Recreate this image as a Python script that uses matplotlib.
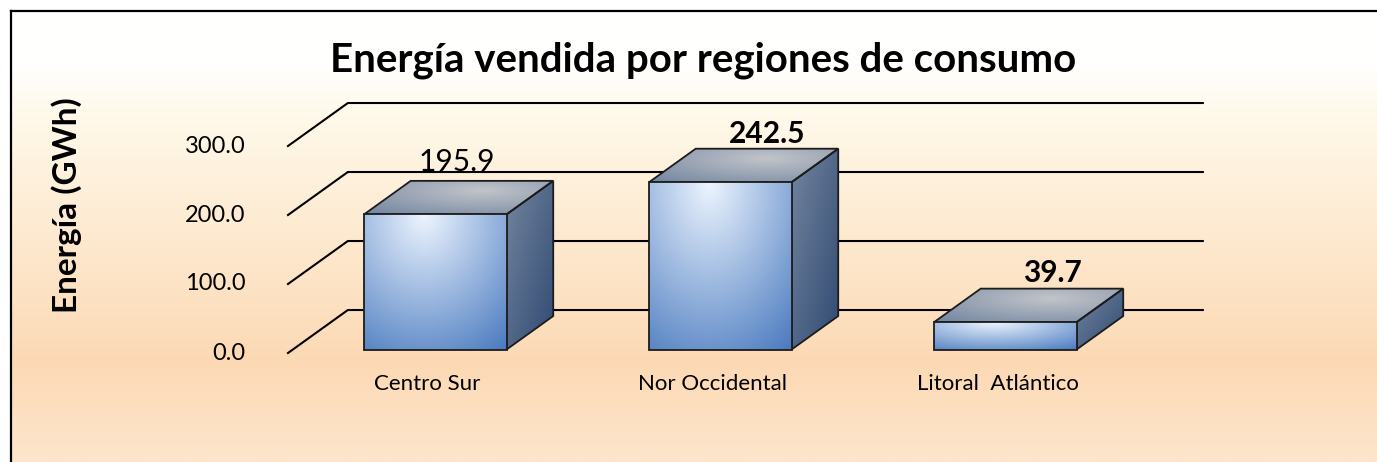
#!/usr/bin/env python3
import matplotlib
matplotlib.use("Agg")
import matplotlib.pyplot as plt
import numpy as np
from matplotlib.patches import Polygon
from matplotlib.lines import Line2D

plt.rcParams['font.family'] = ['Lato', 'DejaVu Sans']

# data
CATEGORIES = ["Centro Sur", "Nor Occidental", "Litoral  Atlántico"]
VALUES = [195.9, 242.5, 39.7]
LABEL_BOLD = [False, True, True]
YTICKS = [0, 100, 200, 300]
TITLE = "Energía vendida por regiones de consumo"
YLABEL = "Energía (GWh)"

# oblique depth of the floor, in data units (category, value)
DX = 0.21
DY = 62.3
BAR_W = 0.5
Z0, Z1 = 0.08, 0.86

W, H = 1377, 462
fig = plt.figure(figsize=(W / 100, H / 100), dpi=100)

# background gradient inside the frame
bg = fig.add_axes([11 / W, 0, 1 - 11 / W, (H - 11) / H])
bg.set_axis_off()
ys = np.linspace(0, 1, 400)  # 0 = top
stops_y = [0.0, 0.12, 0.25, 0.78, 1.0]
stops_c = np.array([[255, 255, 255], [255, 255, 253], [255, 248, 232],
                    [252, 217, 180], [253, 230, 205]]) / 255
grad = np.stack([np.interp(ys, stops_y, stops_c[:, k]) for k in range(3)], axis=-1)
bg.imshow(grad[:, None, :], aspect='auto', extent=(0, 1, 0, 1), origin='upper')
bg.set_xlim(0, 1)
bg.set_ylim(0, 1)

# frame lines
fig.add_artist(Line2D([11 / W, 11 / W], [0, (H - 11) / H], color='black', lw=1.6))
fig.add_artist(Line2D([11 / W, 1], [(H - 11) / H, (H - 11) / H], color='black', lw=1.6))

ax = fig.add_axes([288 / W, (H - 353) / H, 855 / W, 207 / H])
ax.set_xlim(-0.5, 2.5)
ax.set_ylim(0, 300)
ax.set_axis_off()
ax.patch.set_alpha(0)

# back wall gridlines and left side diagonals
for v in YTICKS:
    ax.plot([-0.5, -0.5 + DX, 2.5 + DX], [v, v + DY, v + DY], color='black',
            lw=1.5, clip_on=False, zorder=1, solid_joinstyle='miter')
    ax.text(-0.5 - 0.148, v, f"{v:.1f}", ha='right', va='center', fontsize=17)


def face_img(kind, n=120):
    u, v = np.meshgrid(np.linspace(0, 1, n), np.linspace(0, 1, n))
    if kind == 'front':
        t = np.sqrt(((u - 0.42) / 0.95) ** 2 + ((v - 1.0) / 1.25) ** 2)
        c0, c1 = np.array([0.93, 0.96, 1.0]), np.array([0.29, 0.48, 0.75])
    elif kind == 'top':
        t = np.sqrt(((u - 0.62) / 0.8) ** 2 + ((v - 0.7) / 0.9) ** 2)
        c0, c1 = np.array([0.76, 0.77, 0.79]), np.array([0.47, 0.54, 0.64])
    else:
        t = ((1 - v) + u) / 2
        c0, c1 = np.array([0.45, 0.52, 0.62]), np.array([0.19, 0.29, 0.45])
    t = np.clip(t, 0, 1)[..., None]
    return c0 * (1 - t) + c1 * t


def shade(pts, kind, z):
    poly = Polygon(pts, closed=True, facecolor='none', edgecolor='#1c1c1c',
                   lw=1.3, zorder=z + 0.5, joinstyle='miter')
    ax.add_patch(poly)
    xs = [p[0] for p in pts]
    yv = [p[1] for p in pts]
    im = ax.imshow(face_img(kind), extent=(min(xs), max(xs), min(yv), max(yv)),
                   origin='lower', aspect='auto', zorder=z, interpolation='bilinear')
    im.set_clip_path(poly)


def proj(x, y, z):
    return (x + z * DX, y + z * DY)


for i, (cat, val) in enumerate(zip(CATEGORIES, VALUES)):
    x0, x1 = i - BAR_W / 2, i + BAR_W / 2
    front = [proj(x0, 0, Z0), proj(x1, 0, Z0), proj(x1, val, Z0), proj(x0, val, Z0)]
    top = [proj(x0, val, Z0), proj(x1, val, Z0), proj(x1, val, Z1), proj(x0, val, Z1)]
    side = [proj(x1, 0, Z0), proj(x1, 0, Z1), proj(x1, val, Z1), proj(x1, val, Z0)]
    shade(side, 'side', 3)
    shade(top, 'top', 3)
    shade(front, 'front', 4)

    if LABEL_BOLD[i]:
        lx, ly = proj(i, val, Z1)
        ly += 22
    else:
        lx, ly = proj(i - 0.09, val, Z1)
        ly += 28
    ax.text(lx, ly, f"{val:.1f}", ha='center', va='center', fontsize=21.5,
            fontweight='bold' if LABEL_BOLD[i] else 'normal')
    ax.text(i - 0.01, -45, cat, ha='center', va='center', fontsize=16)

ax.set_xlim(-0.5, 2.5)
ax.set_ylim(0, 300)

fig.text(703 / W, 1 - 60 / H, TITLE, ha='center', va='center', fontsize=29,
         fontweight='bold')
fig.text(67 / W, 1 - 205 / H, YLABEL, ha='center', va='center', fontsize=24,
         fontweight='bold', rotation=90)

plt.savefig('out.png', dpi=100)
